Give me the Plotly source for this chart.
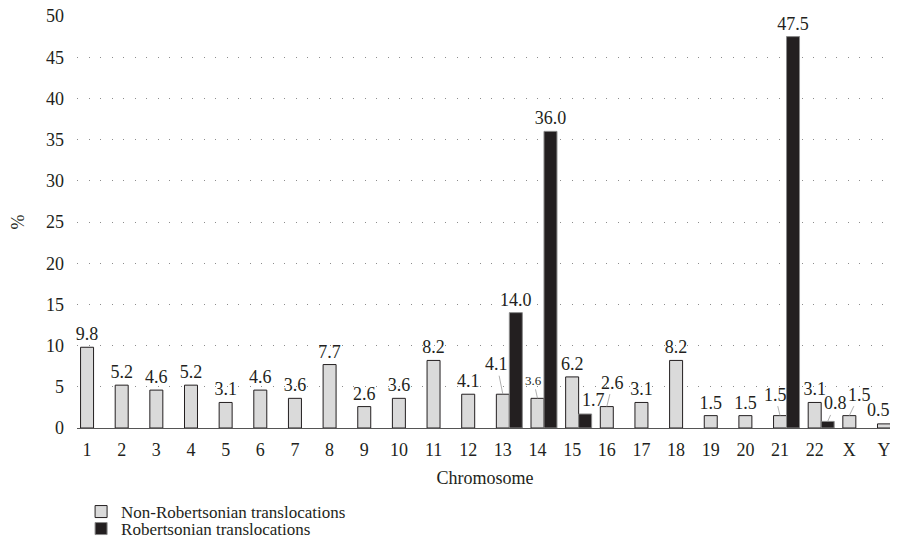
import plotly.graph_objects as go

categories = [str(i) for i in range(1, 23)] + ["X", "Y"]
non_robertsonian = [9.8, 5.2, 4.6, 5.2, 3.1, 4.6, 3.6, 7.7, 2.6, 3.6, 8.2, 4.1,
                    4.1, 3.6, 6.2, 2.6, 3.1, 8.2, 1.5, 1.5, 1.5, 3.1, 1.5, 0.5]
robertsonian = [None] * 12 + [14.0, 36.0, 1.7] + [None] * 5 + [47.5, 0.8, None, None]
y_ticks = list(range(0, 51, 5))

# labels that were moved by hand in the original (offsets in px, font size, leader line)
moved_gray = {"13": (-6, -30, 18, True), "14": (-4, -18, 13, True),
              "16": (6, -24, 18, True), "21": (-5, -21, 18, True),
              "X": (10, -21, 18, True), "Y": (-5, -14, 18, False)}
moved_black = {"15": (8, -14, 18, False), "22": (8, -18, 18, True)}

TXT = "#231f20"
FONT = "Liberation Serif"
W = 0.375

gray_text = ["" if c in moved_gray else f"{v:.1f}" for c, v in zip(categories, non_robertsonian)]
black_text = ["" if (v is None or c in moved_black) else f"{v:.1f}"
              for c, v in zip(categories, robertsonian)]

fig = go.Figure()
fig.add_trace(go.Bar(
    x=categories, y=non_robertsonian, width=W, offset=-W / 2,
    name="Non-Robertsonian translocations",
    marker=dict(color="#dadada", line=dict(color="#231f20", width=1)),
    text=gray_text, textposition="outside", cliponaxis=False, constraintext="none",
    textfont=dict(family=FONT, size=18, color=TXT), legend="legend",
))
fig.add_trace(go.Bar(
    x=categories, y=robertsonian, width=W, offset=W / 2,
    name="Robertsonian translocations",
    marker=dict(color="#231f20", line=dict(color="#8a8a8a", width=1)),
    text=black_text, textposition="outside", cliponaxis=False, constraintext="none",
    textfont=dict(family=FONT, size=18, color=TXT), legend="legend2",
))


def label(x, v, spec):
    ax, ay, fs, arrow = spec
    font = dict(family=FONT, size=fs, color=TXT)
    if arrow:
        return dict(x=x, y=v, text=f"{v:.1f}", showarrow=True, ax=ax, ay=ay,
                    arrowhead=0, arrowwidth=0.8, arrowcolor="#9a9a9a", font=font)
    return dict(x=x, y=v, text=f"{v:.1f}", showarrow=False, xshift=ax, yshift=-ay,
                xanchor="center", yanchor="middle", font=font)


annotations = []
for i, (c, v) in enumerate(zip(categories, non_robertsonian)):
    if c in moved_gray:
        annotations.append(label(i, v, moved_gray[c]))
for i, (c, v) in enumerate(zip(categories, robertsonian)):
    if c in moved_black and v is not None:
        annotations.append(label(i + W, v, moved_black[c]))

FIG_W, FIG_H = 890, 536   # page adds an 8px body margin
PLOT_H = FIG_H - 8 - 116

fig.update_layout(
    width=FIG_W, height=FIG_H,
    margin=dict(l=69, r=5, t=8, b=116, autoexpand=False),
    paper_bgcolor="white", plot_bgcolor="white",
    font=dict(family=FONT, size=18, color=TXT),
    barmode="overlay",
    showlegend=True,
    annotations=annotations,
    xaxis=dict(
        type="category", range=[-0.29, 23.26], automargin=True,
        showline=True, linecolor="#555555", linewidth=1.2, ticklabeloverflow="allow",
        showgrid=False, ticks="", ticklabelstandoff=5,
        title=dict(text="Chromosome", font=dict(family=FONT, size=18, color=TXT), standoff=12),
        tickfont=dict(family=FONT, size=18, color=TXT),
    ),
    yaxis=dict(
        range=[0, 50], tickvals=y_ticks, showline=False, zeroline=False, automargin=True,
        showgrid=True, gridcolor="#8c8c8c", gridwidth=1, griddash="1px,10.5px",
        ticks="", ticklabelstandoff=12, ticklabeloverflow="allow",
        title=dict(text="%", font=dict(family=FONT, size=18, color=TXT), standoff=16),
        tickfont=dict(family=FONT, size=18, color=TXT),
    ),
    legend=dict(x=0.005, xanchor="left", y=-84 / PLOT_H, yanchor="middle",
                font=dict(family=FONT, size=17, color=TXT), bgcolor="rgba(0,0,0,0)",
                itemwidth=30),
    legend2=dict(x=0.005, xanchor="left", y=-101 / PLOT_H, yanchor="middle",
                 font=dict(family=FONT, size=17, color=TXT), bgcolor="rgba(0,0,0,0)",
                 itemwidth=30),
)

fig.write_html("out.html")
